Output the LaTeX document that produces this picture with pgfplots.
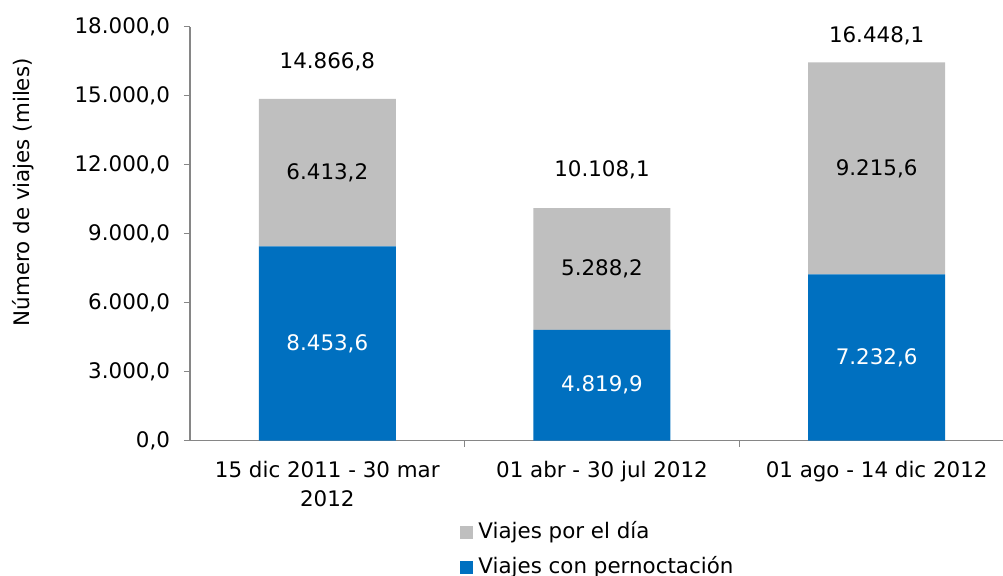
\documentclass[border=0pt]{standalone}
\usepackage{pgfplots}
\usepackage{pgfplotstable}
\pgfplotsset{compat=1.18}
\usepackage{fontspec}
\setmainfont{DejaVu Sans}
\definecolor{barblue}{HTML}{0070C0}
\definecolor{bargray}{HTML}{BFBFBF}
\definecolor{axgray}{HTML}{868686}
\newcommand{\fs}{\fontsize{10.7pt}{14.5pt}\selectfont}
\pgfplotstableread{
x per dia
0 8453.6 6413.2
1 4819.9 5288.2
2 7232.6 9215.6
}\datatable
\begin{document}
\begin{tikzpicture}
\useasboundingbox (-95pt,-67.65pt) rectangle (406.5pt,220.35pt);
\begin{axis}[
  at={(0,0)}, anchor=south west,
  scale only axis,
  width=406.5pt, height=207pt,
  xmin=-0.5, xmax=2.46,
  ymin=0, ymax=18000,
  ybar stacked, bar width=68.5pt,
  axis x line*=bottom, axis y line*=left,
  axis line style={draw=axgray, line width=0.8pt},
  tick align=outside,
  major tick length=3pt,
  tick style={draw=axgray, line width=0.8pt},
  ytick={0,3000,...,18000},
  scaled y ticks=false,
  yticklabel style={font=\fs, xshift=-3.5pt},
  /pgf/number format/.cd, fixed, fixed zerofill, precision=1, use comma, 1000 sep={.}, assume math mode=true,
  /pgfplots/.cd,
  xtick={0.5,1.5},
  xticklabels={},
  extra x ticks={0,1,2},
  extra x tick labels={{15 dic 2011 - 30 mar\\2012},{01 abr - 30 jul 2012},{01 ago - 14 dic 2012}},
  extra x tick style={major tick length=0pt, tick style={draw=none}},
  xticklabel style={font=\fs, align=center, yshift=-6.5pt},
  reverse legend,
  legend image code/.code={\fill[#1] (0pt,-3.25pt) rectangle (6.5pt,3.25pt);},
  legend style={at={(0,0)}, anchor=north west, xshift=135pt, yshift=-39.5pt,
    draw=none, fill=none, inner sep=0pt, row sep=5pt, font=\fs,
    nodes={inner sep=1pt, text height=8pt, text depth=2.5pt},
    /tikz/every odd column/.append style={column sep=1.5pt}},
  legend cell align=left,
  clip=false,
]
\addplot[fill=barblue, draw=none] table[x=x, y=per]{\datatable};
\addlegendentry{Viajes con pernoctación}
\addplot[fill=bargray, draw=none] table[x=x, y=dia]{\datatable};
\addlegendentry{Viajes por el día}
\coordinate (b1) at (axis cs:0,4226.8);
\coordinate (b2) at (axis cs:1,2410.0);
\coordinate (b3) at (axis cs:2,3616.3);
\coordinate (g1) at (axis cs:0,11660.2);
\coordinate (g2) at (axis cs:1,7464.0);
\coordinate (g3) at (axis cs:2,11840.4);
\coordinate (t1) at (axis cs:0,16480);
\coordinate (t2) at (axis cs:1,11770);
\coordinate (t3) at (axis cs:2,17600);
\coordinate (ylab) at (rel axis cs:0,0.6);
\end{axis}
\node[font=\fs, white] at (b1) {8.453,6};
\node[font=\fs, white] at (b2) {4.819,9};
\node[font=\fs, white] at (b3) {7.232,6};
\node[font=\fs] at (g1) {6.413,2};
\node[font=\fs] at (g2) {5.288,2};
\node[font=\fs] at (g3) {9.215,6};
\node[font=\fs] at (t1) {14.866,8};
\node[font=\fs] at (t2) {10.108,1};
\node[font=\fs] at (t3) {16.448,1};
\node[font=\fs, rotate=90] at ([xshift=-83.5pt]ylab) {Número de viajes (miles)};
\end{tikzpicture}
\end{document}
